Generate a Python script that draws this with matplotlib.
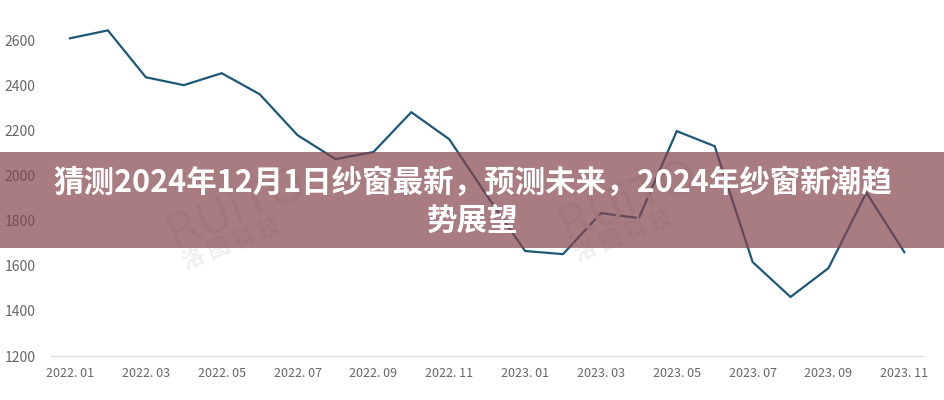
import matplotlib
matplotlib.use('Agg')
from matplotlib import pyplot as plt
from matplotlib.patches import Rectangle

# 月份与数值
months = ['2022.01', '2022.02', '2022.03', '2022.04', '2022.05', '2022.06',
          '2022.07', '2022.08', '2022.09', '2022.10', '2022.11', '2022.12',
          '2023.01', '2023.02', '2023.03', '2023.04', '2023.05', '2023.06',
          '2023.07', '2023.08', '2023.09', '2023.10', '2023.11']
values = [2610, 2645, 2437, 2402, 2455, 2362, 2180, 2074, 2105, 2282, 2162, 1910,
          1666, 1652, 1834, 1812, 2198, 2131, 1617, 1462, 1590, 1925, 1661]
tick_labels = ['2022. 01', '2022. 03', '2022. 05', '2022. 07', '2022. 09', '2022. 11',
               '2023. 01', '2023. 03', '2023. 05', '2023. 07', '2023. 09', '2023. 11']
y_ticks = [1200, 1400, 1600, 1800, 2000, 2200, 2400, 2600]
title_line1 = '猜测2024年12月1日纱窗最新，预测未来，2024年纱窗新潮趋'
title_line2 = '势展望'

plt.rcParams['font.family'] = ['Noto Sans CJK SC', 'DejaVu Sans']

fig = plt.figure(figsize=(9.45, 4), dpi=100)
ax = fig.add_axes([0.054, 0.11, 0.923, 0.845])

x = list(range(len(months)))
ax.plot(x, values, color='#1d5877', linewidth=1.6, solid_joinstyle='miter', zorder=3)

ax.set_xlim(-0.5, len(months) - 0.5)
ax.set_ylim(1200, 2700)
ax.set_xticks(x[::2])
ax.set_xticklabels(tick_labels)
ax.set_yticks(y_ticks)
ax.tick_params(axis='both', length=0, colors='#666666')
ax.tick_params(axis='x', pad=8, labelsize=9)
ax.tick_params(axis='y', pad=11, labelsize=10)
for side in ['top', 'right', 'left']:
    ax.spines[side].set_visible(False)
ax.spines['bottom'].set_color('#dddddd')
ax.spines['bottom'].set_linewidth(1)

# 水印
for wx, wy in [(0.25, 0.48), (0.665, 0.5)]:
    fig.text(wx, wy, 'RUiTO', fontsize=34, color='#ececec', rotation=22,
             ha='center', va='center', family='DejaVu Sans', zorder=1)
    fig.text(wx - 0.005, wy - 0.09, '洛 图 科 技', fontsize=16, color='#eeeeee',
             rotation=22, ha='center', va='center', fontweight='bold', zorder=1)

# 标题横幅
fig.patches.append(Rectangle((0, 0.38), 1, 0.24, transform=fig.transFigure,
                             facecolor='#83444c', alpha=0.7, edgecolor='none', zorder=5))
fig.text(0.5, 0.543, title_line1, fontsize=22, fontweight='bold', color='white',
         ha='center', va='center', zorder=6)
fig.text(0.5, 0.448, title_line2, fontsize=22, fontweight='bold', color='white',
         ha='center', va='center', zorder=6)

fig.savefig('out.png', dpi=100)
